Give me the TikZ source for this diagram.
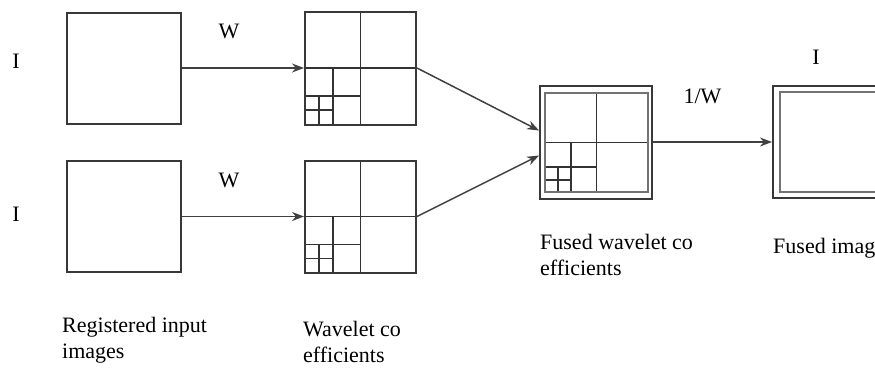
\documentclass[tikz,border=0pt]{standalone}
\usepackage{fontspec}
\setmainfont{Liberation Serif}
\usetikzlibrary{arrows.meta,calc}

\begin{document}
\begin{tikzpicture}[
  x=1pt, y=-1pt,
  >={Stealth[length=12pt,width=9pt]},
  font=\fontsize{22}{28}\selectfont,
  block/.style = {
    draw=black!78,
    line width=2pt,
    shape=rectangle,
    inner sep=0pt
  },
  inner/.style = {
    draw=black!55,
    line width=2.4pt,
    shape=rectangle,
    inner sep=0pt
  },
  gridline/.style = {
    draw=black!80,
    line width=1.8pt
  },
  wavelet/.style = {
    path picture={
      \draw[gridline]
        let \p1 = (path picture bounding box.south west),
            \p2 = (path picture bounding box.north east),
            \n1 = {\x2-\x1}, \n2 = {\y2-\y1}
        in (\x1+0.5*\n1, \y1) -- (\x1+0.5*\n1, \y2)
           (\x1, \y1+0.5*\n2) -- (\x2, \y1+0.5*\n2)
           (\x1+0.25*\n1, \y1) -- (\x1+0.25*\n1, \y1+0.5*\n2)
           (\x1, \y1+0.25*\n2) -- (\x1+0.5*\n1, \y1+0.25*\n2)
           (\x1+0.125*\n1, \y1) -- (\x1+0.125*\n1, \y1+0.25*\n2)
           (\x1, \y1+0.125*\n2) -- (\x1+0.25*\n1, \y1+0.125*\n2);
    }
  },
  wire/.style = {
    ->,
    draw=black!75,
    line width=1.5pt
  },
  caption/.style = {
    anchor=north west,
    inner sep=0pt,
    align=left,
    font=\fontsize{22}{26}\selectfont
  },
  tag/.style = {
    inner sep=0pt
  },
]
  \useasboundingbox (0,0) rectangle (875,367);

  % input images
  \node (in1)[
    block,
    minimum width=114pt,
    minimum height=111pt
  ] at (124,68) {};
  \node (in2)[
    block,
    minimum width=114pt,
    minimum height=111pt
  ] at (124,216.5) {};
  \node (i1)[tag] at (16,61) {I};
  \node (i2)[tag] at (16,214) {I};

  % wavelet coefficients
  \node (wv1)[
    block,
    wavelet,
    minimum width=111pt,
    minimum height=113pt
  ] at (360.5,68) {};
  \node (wv2)[
    block,
    wavelet,
    minimum width=111pt,
    minimum height=112pt
  ] at (360.5,216.5) {};

  % fused coefficients
  \node (fusedbox)[
    block,
    minimum width=112pt,
    minimum height=113pt
  ] at (596,142) {};
  \node (fused)[
    inner,
    wavelet,
    minimum width=103pt,
    minimum height=99pt
  ] at (596.5,142.5) {};

  % fused image
  \node (outbox)[
    block,
    minimum width=130pt,
    minimum height=112pt
  ] at (838,142) {};
  \node (out)[
    inner,
    minimum width=130pt,
    minimum height=100pt
  ] at (845,142) {};
  \node (i3)[tag] at (816,57) {I};

  \draw[wire] (in1) -- (wv1) node[midway,xshift=-14pt,yshift=37pt] (w1) {W};
  \draw[wire] (in2) -- (wv2) node[midway,xshift=-14pt,yshift=36pt] (w2) {W};
  \draw[wire] (wv1.east) -- ([yshift=11.5pt]fusedbox.west);
  \draw[wire] (wv2.east) -- ([yshift=-13.5pt]fusedbox.west);
  \draw[wire] (fusedbox) -- (outbox) node[midway,xshift=-10pt,yshift=46pt] (iw) {1/W};

  % captions
  \node (capin)[caption] at (62,317) {Registered input\\images};
  \node (capwv)[caption] at (303,321) {Wavelet co\\efficients};
  \node (capfu)[caption] at (540,234) {Fused wavelet co\\efficients};
  \node (capout)[caption] at (773,238) {Fused image};
\end{tikzpicture}
\end{document}
